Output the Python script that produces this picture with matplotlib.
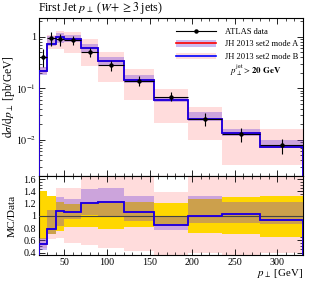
import numpy as np
import matplotlib
matplotlib.use("Agg")
import matplotlib.pyplot as plt
from matplotlib.lines import Line2D
from matplotlib.patches import Patch
from matplotlib.ticker import MultipleLocator, LogLocator, NullFormatter


# bin edges in GeV
edges = [20, 30, 40, 50, 70, 90, 120, 155, 195, 235, 280, 330]

# ATLAS data and relative errors
data = [0.41, 0.93, 0.90, 0.85, 0.50, 0.28, 0.139, 0.069, 0.0256, 0.0131, 0.0080]
data_err_hi = [0.41, 0.32, 0.23, 0.20, 0.21, 0.21, 0.22, 0.21, 0.28, 0.30, 0.32]
data_err_lo = [0.38, 0.30, 0.25, 0.19, 0.19, 0.22, 0.19, 0.16, 0.28, 0.30, 0.34]

# MC / data ratios (central values)
mode_a_ratio = [0.537, 0.787, 1.08, 1.06, 1.217, 1.22, 1.06, 0.845, 0.99, 1.03, 0.93]
mode_b_ratio = [0.537, 0.787, 1.08, 1.06, 1.217, 1.22, 1.06, 0.845, 0.99, 1.03, 0.93]

# uncertainty bands, as MC / data
mode_a_lo = [0.44, 0.70, 0.84, 0.95, 1.02, 1.00, 0.92, 0.77, 0.89, 0.89, 0.86]
mode_a_hi = [0.64, 1.10, 1.30, 1.27, 1.43, 1.45, 1.32, 1.00, 1.33, 1.22, 1.22]
mode_b_lo = [0.47, 0.62, 0.645, 0.56, 0.53, 0.48, 0.42, 0.31, 0.39, 0.25, 0.40]
mode_b_hi = [0.62, 1.15, 1.45, 1.45, 1.78, 1.83, 1.68, 1.39, 1.70, 1.87, 2.00]

PINK = "#ffdcdc"
YELLOW = "#ffd700"
PURPLE = "#6e3cdc"

plt.rcParams.update({
    "font.family": "Liberation Serif",
    "mathtext.fontset": "stix",
    "font.size": 7,
    "xtick.direction": "in",
    "ytick.direction": "in",
    "xtick.top": True,
    "ytick.right": True,
})


def main():
    e = np.array(edges, dtype=float)
    d = np.array(data)
    centers = 0.5 * (e[:-1] + e[1:])
    half = 0.5 * (e[1:] - e[:-1])

    fig = plt.figure(figsize=(3.13, 2.82), dpi=100)
    ax = fig.add_axes([0.1236, 0.376, 0.8444, 0.560])
    rax = fig.add_axes([0.1236, 0.0957, 0.8444, 0.2803], sharex=ax)

    # ---- main panel
    ax.stairs(np.array(mode_b_hi) * d, e, baseline=np.array(mode_b_lo) * d,
              fill=True, color=PINK, lw=0, zorder=1)
    ax.stairs(np.array(mode_a_hi) * d, e, baseline=np.array(mode_a_lo) * d,
              fill=True, color=PURPLE, alpha=0.35, lw=0, zorder=2)
    ax.stairs(np.array(mode_a_ratio) * d, e, color="red", lw=1.2, zorder=3)
    ax.stairs(np.array(mode_b_ratio) * d, e, color="blue", lw=1.2, zorder=4)
    ax.errorbar(centers, d, xerr=half,
                yerr=[d * np.array(data_err_lo), d * np.array(data_err_hi)],
                fmt="o", ms=2.2, color="black", ecolor="black", elinewidth=0.8,
                capsize=0, zorder=5)

    ax.set_yscale("log")
    ax.set_xlim(20, 330)
    ax.set_ylim(2e-3, 2.3)
    ax.set_yticks([1e-2, 1e-1, 1])
    ax.set_yticklabels([r"$10^{-2}$", r"$10^{-1}$", "1"])
    ax.yaxis.set_minor_locator(LogLocator(base=10, subs=np.arange(2, 10)))
    ax.yaxis.set_minor_formatter(NullFormatter())
    ax.tick_params(labelbottom=False)
    ax.set_ylabel(r"$\mathrm{d}\sigma/\mathrm{d}p_\perp$ [pb/GeV]", fontsize=8.3)

    handles = [
        Line2D([], [], color="black", marker="o", ms=2.2, lw=0.8),
        (Patch(color=PURPLE, alpha=0.35, lw=0), Line2D([], [], color="red", lw=1.2)),
        (Patch(color=PINK, lw=0), Line2D([], [], color="blue", lw=1.2)),
    ]
    labels = ["ATLAS data", "JH 2013 set2 mode A", "JH 2013 set2 mode B"]
    ax.legend(handles, labels, loc="upper left", bbox_to_anchor=(0.505, 0.96),
              frameon=False, fontsize=6.1, handlelength=4.8, handleheight=0.8,
              handletextpad=1.0, labelspacing=0.5, borderaxespad=0)
    ax.text(0.722, 0.672, r"$p_\perp^{\mathrm{jet}} > \mathbf{20\ GeV}$",
            transform=ax.transAxes, fontsize=6.4, ha="left", va="center")

    fig.text(0.122, 0.972, r"First Jet $p_\perp$ ($W\!+\geq 3$ jets)",
             fontsize=8.6, ha="left", va="center")

    # ---- ratio panel
    rax.stairs(mode_b_hi, e, baseline=mode_b_lo, fill=True, color=PINK, lw=0, zorder=1)
    rax.stairs(1 + np.array(data_err_hi), e, baseline=1 - np.array(data_err_lo),
               fill=True, color=YELLOW, lw=0, zorder=2)
    rax.stairs(mode_a_hi, e, baseline=mode_a_lo, fill=True, color=PURPLE,
               alpha=0.35, lw=0, zorder=3)
    rax.axhline(1, color="#444444", lw=0.8, zorder=4)
    rax.stairs(mode_a_ratio, e, color="red", lw=1.2, zorder=5)
    rax.stairs(mode_b_ratio, e, color="blue", lw=1.2, zorder=6)

    rax.set_ylim(0.36, 1.65)
    rax.yaxis.set_minor_locator(MultipleLocator(0.05))
    rax.set_yticks([0.4, 0.6, 0.8, 1.0, 1.2, 1.4, 1.6])
    rax.set_yticklabels(["0.4", "0.6", "0.8", "1", "1.2", "1.4", "1.6"])
    rax.xaxis.set_minor_locator(MultipleLocator(10))
    rax.set_xticks([50, 100, 150, 200, 250, 300])
    rax.set_ylabel("MC/Data", fontsize=8.2)
    rax.set_xlabel(r"$p_\perp$ [GeV]", fontsize=7.8, loc="right", labelpad=0)

    for a in (ax, rax):
        a.tick_params(which="major", length=4, width=0.6, pad=2, labelsize=7.2)
        a.tick_params(which="minor", length=2, width=0.5)
        for s in a.spines.values():
            s.set_linewidth(0.8)
    rax.yaxis.set_label_coords(-0.083, 0.5)
    ax.yaxis.set_label_coords(-0.083, 0.5)

    fig.savefig("out.png", dpi=100)


if __name__ == "__main__":
    main()
